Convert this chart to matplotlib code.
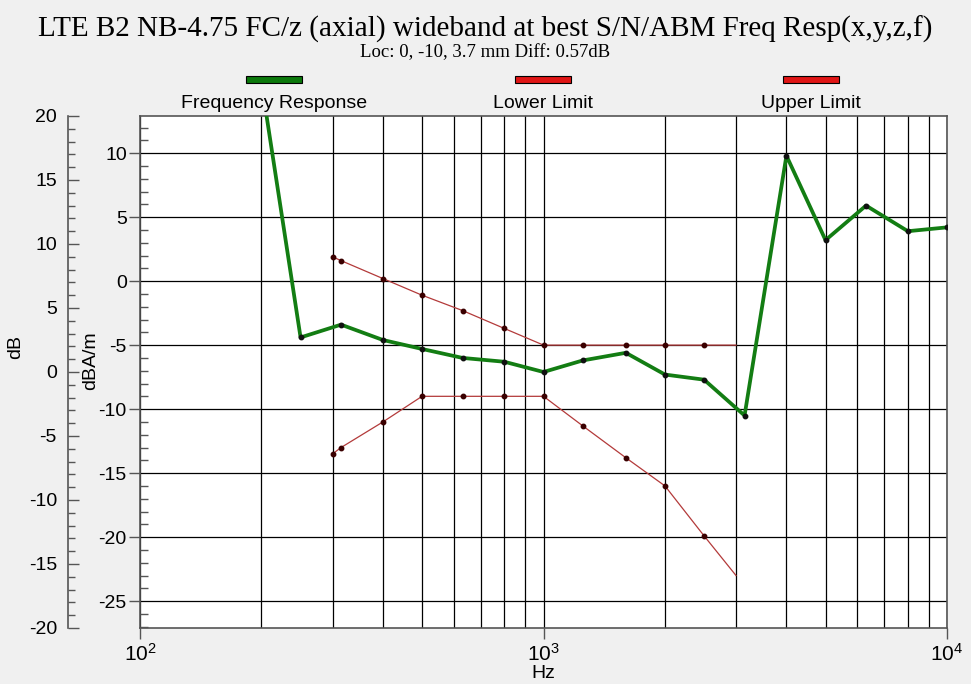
import numpy as np
import matplotlib
matplotlib.use('Agg')
import matplotlib.pyplot as plt
from matplotlib.ticker import MultipleLocator, LogLocator, NullFormatter, FixedLocator
from matplotlib.patches import Rectangle

plt.rcParams['font.family'] = ['Liberation Sans', 'DejaVu Sans']
plt.rcParams['axes.unicode_minus'] = False
plt.rcParams['mathtext.fontset'] = 'custom'
plt.rcParams['mathtext.rm'] = 'Liberation Sans'
plt.rcParams['mathtext.it'] = 'Liberation Sans'

# Data (dBA/m on the inner axis)
resp_hz = [200, 250, 315, 400, 500, 630, 800, 1000, 1250, 1600, 2000, 2500,
           3150, 4000, 5000, 6300, 8000, 10000]
resp_db = [15.5, -4.4, -3.4, -4.6, -5.3, -6.0, -6.3, -7.1, -6.2, -5.6, -7.3,
           -7.7, -10.5, 9.8, 3.2, 5.9, 3.9, 4.2]

limit_hz = [300, 315, 400, 500, 630, 800, 1000, 1250, 1600, 2000, 2500, 3000]
upper_db = [1.9, 1.6, 0.2, -1.1, -2.3, -3.7, -5.0, -5.0, -5.0, -5.0, -5.0, -5.0]
lower_db = [-13.5, -13.0, -11.0, -9.0, -9.0, -9.0, -9.0, -11.3, -13.8, -16.0,
            -19.9, -23.0]

legend_labels = ['Frequency Response', 'Lower Limit', 'Upper Limit']
legend_colors = ['#0b780b', '#e01515', '#e01515']

title = 'LTE B2 NB-4.75 FC/z (axial) wideband at best S/N/ABM Freq Resp(x,y,z,f)'
subtitle = 'Loc: 0, -10, 3.7 mm Diff: 0.57dB'

W, H = 971, 684
fig = plt.figure(figsize=(W / 100, H / 100), dpi=100, facecolor='#f0f0f0')
ax = fig.add_axes([140 / W, 1 - 628 / H, 807 / W, 512 / H])
ax.set_facecolor('white')

# limits (thin red) and response (thick green)
lim_marks = list(range(len(limit_hz) - 1))
ax.plot(limit_hz, upper_db, color='#b33a3a', lw=0.9, marker='o', ms=3.2,
        mfc='#3a0000', mec='#3a0000', markevery=lim_marks, zorder=3)
ax.plot(limit_hz, lower_db, color='#b33a3a', lw=0.9, marker='o', ms=3.2,
        mfc='#3a0000', mec='#3a0000', markevery=lim_marks, zorder=3)
ax.plot(resp_hz, resp_db, color='#137d13', lw=2.7, marker='o', ms=3.2,
        mfc='#101010', mec='#101010', zorder=4)

ax.set_xscale('log')
ax.set_xlim(100, 10000)
ax.set_ylim(-27.1, 12.9)

ax.xaxis.set_major_locator(FixedLocator([100, 1000, 10000]))
ax.set_xticklabels(['$10^2$', '$10^3$', '$10^4$'])
ax.xaxis.set_minor_locator(LogLocator(base=10, subs=np.arange(2, 10)))
ax.xaxis.set_minor_formatter(NullFormatter())
ax.yaxis.set_major_locator(MultipleLocator(5))
ax.yaxis.set_minor_locator(MultipleLocator(1))

ax.grid(True, which='both', axis='x', color='black', lw=0.9)
ax.grid(True, which='major', axis='y', color='black', lw=0.9)
ax.set_axisbelow(True)

ax.tick_params(axis='x', which='major', direction='out', length=8, width=1,
               color='#555555', labelsize=15, pad=3)
ax.tick_params(axis='x', which='minor', length=0)
ax.tick_params(axis='y', which='major', direction='out', length=8, width=1,
               color='#555555', labelsize=14, pad=1.5)
ax.tick_params(axis='y', which='minor', direction='in', length=6, width=1,
               color='#555555')
for s in ax.spines.values():
    s.set_color('#555555')
    s.set_linewidth(1.2)

ax.set_xlabel('Hz', fontsize=14, labelpad=0)
ax.set_ylabel('dBA/m', fontsize=14)
ax.yaxis.set_label_coords(-0.051, 0.523)

# outer dB axis
ax2 = ax.twinx()
ax2.set_ylim(-20, 20)
ax2.yaxis.tick_left()
ax2.yaxis.set_label_position('left')
for k in ['right', 'top', 'bottom']:
    ax2.spines[k].set_visible(False)
ax2.spines['left'].set_position(('axes', (68 - 140) / 807))
ax2.spines['left'].set_color('#555555')
ax2.spines['left'].set_linewidth(1.2)
ax2.yaxis.set_major_locator(MultipleLocator(5))
ax2.yaxis.set_minor_locator(MultipleLocator(1))
ax2.tick_params(axis='y', which='major', direction='in', length=8, width=1,
                color='#555555', labelsize=14, pad=8)
ax2.tick_params(axis='y', which='minor', direction='in', length=5, width=1,
                color='#555555')
ax2.set_ylabel('dB', fontsize=14)
ax2.yaxis.set_label_coords(-0.143, 0.549)

# titles
fig.text(0.5, 1 - 29 / H, title, ha='center', va='center',
         family='Liberation Serif', fontsize=21)
fig.text(0.5, 1 - 53 / H, subtitle, ha='center', va='center',
         family='Liberation Serif', fontsize=13.5)

# legend
leg_x = [274, 543, 811]
for lx, lab, col in zip(leg_x, legend_labels, legend_colors):
    fig.patches.append(Rectangle(((lx - 28) / W, 1 - 83 / H), 56 / W, 7 / H,
                                 transform=fig.transFigure, facecolor=col,
                                 edgecolor='black', lw=0.8))
    fig.text(lx / W, 1 - 104 / H, lab, ha='center', va='center', fontsize=14)

fig.savefig('out.png', dpi=100, facecolor=fig.get_facecolor())
